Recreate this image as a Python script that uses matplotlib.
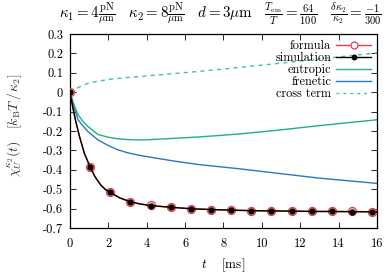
import matplotlib
matplotlib.use("Agg")
import matplotlib.pyplot as plt
from matplotlib.lines import Line2D

plt.rcParams["font.family"] = "serif"
plt.rcParams["font.serif"] = ["cmr10"]
plt.rcParams["mathtext.fontset"] = "cm"
plt.rcParams["axes.unicode_minus"] = False
plt.rcParams["axes.formatter.use_mathtext"] = False

# ── data ────────────────────────────────────────────────────────────────────
t_curve = [0, 0.15, 0.3, 0.5, 0.75, 1.05, 1.3, 1.6, 1.85, 2.1, 2.6, 3.15, 3.65,
           4.2, 5.25, 6.3, 7.35, 8.4, 9.45, 10.5, 11.55, 12.6, 13.65, 14.7, 15.75, 16]
chi_formula = [0, -0.08, -0.15, -0.23, -0.315, -0.387, -0.435, -0.478, -0.502, -0.517,
               -0.545, -0.565, -0.576, -0.584, -0.593, -0.600, -0.605, -0.608, -0.610,
               -0.612, -0.613, -0.614, -0.615, -0.615, -0.616, -0.616]
chi_sim = [0, -0.08, -0.15, -0.23, -0.315, -0.386, -0.435, -0.478, -0.502, -0.517,
           -0.545, -0.565, -0.576, -0.585, -0.593, -0.601, -0.605, -0.608, -0.611,
           -0.612, -0.613, -0.615, -0.615, -0.616, -0.617, -0.617]
# indices of t_curve where the sampled points (every 1.05 ms) sit
mark_idx = [0, 5, 9, 11, 13, 14, 15, 16, 17, 18, 19, 20, 21, 22, 23, 24]

t_ent = [0, 0.2, 0.42, 0.7, 0.94, 1.46, 2, 2.5, 3, 3.65, 4.06, 5, 6.8, 8.86, 11, 13, 16]
chi_ent = [0, -0.063, -0.116, -0.153, -0.177, -0.218, -0.232, -0.240, -0.244, -0.246,
           -0.245, -0.240, -0.230, -0.215, -0.194, -0.172, -0.142]

t_fren = [0, 0.2, 0.42, 0.7, 0.94, 1.46, 2, 2.5, 3, 3.65, 4.5, 5.5, 6.8, 8.86, 11, 13, 16]
chi_fren = [0, -0.075, -0.142, -0.176, -0.203, -0.246, -0.275, -0.297, -0.312, -0.326,
            -0.340, -0.356, -0.374, -0.395, -0.420, -0.443, -0.470]

t_cross = [0, 0.2, 0.5, 1.04, 2, 3, 4.17, 5.5, 6.77, 9, 11, 13, 16]
chi_cross = [0, 0.015, 0.028, 0.050, 0.066, 0.076, 0.086, 0.097, 0.108, 0.130,
             0.150, 0.172, 0.203]

x_ticks = [0, 2, 4, 6, 8, 10, 12, 14, 16]
y_ticks = [-0.7, -0.6, -0.5, -0.4, -0.3, -0.2, -0.1, 0, 0.1, 0.2, 0.3]

RED, GREEN, BLUE, MINT, GREY = "#e8404a", "#1fb574", "#2878c8", "#3cc88c", "#333333"

fig = plt.figure(figsize=(3.91, 2.75), dpi=100)
ax = fig.add_axes([0.179, 0.171, 0.785, 0.705])

ax.plot(t_curve, chi_formula, color=RED, lw=1.0, marker="o", markevery=mark_idx,
        ms=5.8, mfc="#f8d0d0", mec=RED, mew=0.9, zorder=3)
ax.plot(t_curve, chi_sim, color="black", lw=1.0, marker="o", markevery=mark_idx,
        ms=3.5, mfc="black", mec="black", zorder=4)
ax.plot(t_ent, chi_ent, color=GREEN, lw=1.0)
ax.plot(t_fren, chi_fren, color=BLUE, lw=1.0)
ax.plot(t_cross, chi_cross, color=MINT, lw=1.0, dashes=(3, 3))

ax.set_xlim(0, 16)
ax.set_ylim(-0.7, 0.3)
ax.set_xticks(x_ticks)
ax.set_yticks(y_ticks)
ax.set_xticklabels([str(v) for v in x_ticks])
ax.set_yticklabels(["0" if v == 0 else f"{v:.1f}" for v in y_ticks])
ax.tick_params(direction="in", top=True, right=True, length=4.5, width=0.6,
               labelsize=9, colors="black")
ax.tick_params(axis="y", pad=5)
ax.tick_params(axis="x", pad=7)
for s in ax.spines.values():
    s.set_linewidth(0.9)

ax.set_xlabel(r"$t\quad\ [\mathrm{ms}]$", fontsize=9.5, labelpad=5)
ax.set_ylabel(r"$\chi_U^{\kappa_2}(t)\quad [k_\mathrm{B}T\,/\,\kappa_2]$",
              fontsize=10, color=GREY, labelpad=5)
ax.yaxis.set_label_coords(-0.15, 0.53)

fig.text(0.565, 0.952,
         r"$\kappa_1 = 4\frac{\mathrm{pN}}{\mu\mathrm{m}}\quad "
         r"\kappa_2 = 8\frac{\mathrm{pN}}{\mu\mathrm{m}}\quad "
         r"d = 3\mu\mathrm{m}\quad "
         r"\frac{T_\mathrm{em}}{T} = \frac{64}{100}\quad "
         r"\frac{\delta\kappa_2}{\kappa_2} = \frac{-1}{300}$",
         ha="center", va="center", fontsize=10.8)

handles = [
    Line2D([], [], color=RED, lw=1.0, marker="o", ms=5.0, mfc="white", mec=RED, mew=0.9),
    Line2D([], [], color="black", lw=1.0, marker="o", ms=3.2, mfc="black"),
    Line2D([], [], color=GREEN, lw=1.0),
    Line2D([], [], color=BLUE, lw=1.0),
    Line2D([], [], color=MINT, lw=1.0, dashes=(2, 3)),
]
labels = ["formula", "simulation", "entropic", "frenetic", "cross term"]
ax.legend(handles, labels, loc="upper right", frameon=False, markerfirst=False,
          fontsize=8.8, labelspacing=0.0, handlelength=2.9, handletextpad=0.4,
          handleheight=0.5, borderaxespad=0.3, borderpad=0.15)

fig.savefig("out.png", dpi=100, facecolor="white")
